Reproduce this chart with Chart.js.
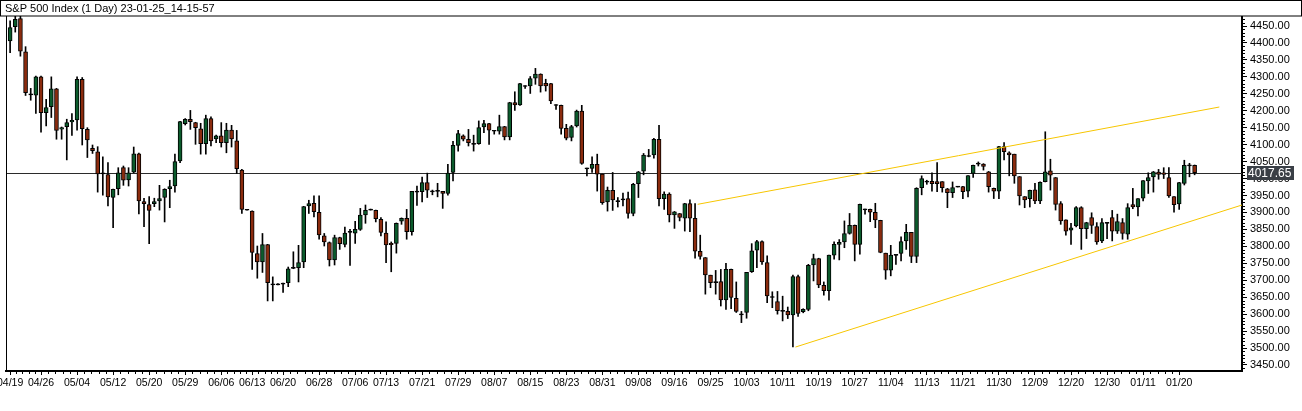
<!DOCTYPE html>
<html>
<head>
<meta charset="utf-8">
<script src="https://cdn.jsdelivr.net/npm/chart.js@4.4.1/dist/chart.umd.min.js"></script>
<style>
html,body{margin:0;padding:0;background:#fff;overflow:hidden;}
#box{width:1302px;height:411px;position:relative;}
canvas{display:block;}
</style>
</head>
<body>
<div id="box"><canvas id="chart" width="1302" height="411"></canvas></div>
<script>
// ---------------- DATA ----------------
const chartTitle = 'S&P 500 Index (1 Day) 23-01-25_14-15-57';

const opens = [
4406,4448,4472,4374,4249,4246,4300,4194,4212,4265,4146,4153,4167,4173,4293,4145,4089,4079,4016,4012,
3944,3970,4032,3996,4019,4073,3932,3923,3926,3934,3944,3970,3978,4052,4162,4175,4165,4147,4103,4177,
4117,4126,4106,4143,4111,4025,3908,3904,3779,3754,3805,3688,3688,3691,3693,3736,3737,3754,3919,3927,
3900,3831,3811,3760,3826,3806,3842,3839,3850,3893,3908,3906,3880,3839,3809,3809,3874,3883,3843,3961,
3961,3988,3962,3963,3962,3956,4018,4098,4126,4116,4103,4103,4152,4162,4141,4140,4153,4123,4224,4217,
4273,4273,4296,4308,4281,4280,4217,4216,4148,4121,4155,4199,4030,4030,4042,4013,3931,3965,3933,3938,
3941,3897,3985,4022,4066,4070,4116,3941,3954,3893,3897,3883,3926,3883,3785,3767,3715,3694,3696,3642,
3732,3647,3600,3605,3725,3789,3814,3752,3650,3637,3610,3608,3598,3711,3607,3614,3745,3764,3685,3669,
3774,3806,3813,3838,3862,3806,3909,3909,3900,3877,3780,3730,3775,3779,3816,3841,3770,3973,3991,3992,
3991,3991,3970,3958,3976,3976,3963,4015,4044,4043,4020,3971,3963,4094,4076,4072,4006,3947,3941,3967,
3934,3991,4023,4003,3926,3878,3848,3860,3914,3852,3885,3858,3816,3869,3885,3845,3870,3836,3923,3916,
3942,3993,4005,4019,4017,4003,3947,3925,3986,4039,4039
];
const highs = [
4465,4479,4479,4389,4266,4302,4302,4234,4300,4266,4152,4175,4192,4300,4298,4150,4099,4094,4064,4047,
3969,4032,4037,4032,4093,4075,3942,3947,3942,3980,3970,3995,4072,4169,4177,4201,4166,4163,4187,4182,
4128,4165,4163,4157,4142,4027,3909,3905,3801,3838,3806,3710,3690,3692,3739,3784,3803,3918,3936,3949,
3949,3838,3813,3833,3827,3857,3850,3874,3912,3922,3910,3907,3885,3872,3813,3869,3884,3909,3962,3978,
4004,4016,3966,3986,3962,4042,4110,4142,4129,4145,4128,4170,4172,4163,4142,4187,4154,4225,4256,4281,
4274,4301,4325,4309,4293,4281,4218,4217,4160,4157,4202,4216,4031,4064,4072,4013,3975,4018,3944,3957,
3960,3986,4021,4074,4086,4119,4157,3961,3958,3903,3897,3927,3937,3926,3833,3767,3715,3729,3732,3750,
3733,3695,3608,3723,3808,3818,3816,3772,3666,3667,3653,3621,3715,3715,3616,3747,3777,3765,3695,3774,
3813,3820,3875,3897,3863,3925,3910,3910,3927,3877,3780,3803,3776,3828,3865,3841,3973,4008,3995,4017,
4047,3991,3971,3990,3977,3977,4009,4040,4049,4044,4021,3972,4095,4106,4079,4072,4006,3947,3966,3986,
3990,4138,4057,4003,3932,3878,3868,3917,3917,3871,3899,3870,3882,3870,3906,3895,3882,3926,3971,3941,
3994,4017,4021,4027,4032,4032,3947,3989,4054,4045,4040
];
const lows = [
4371,4432,4361,4245,4231,4192,4137,4155,4180,4116,4116,4055,4127,4143,4099,4062,4074,3960,3951,3919,
3855,3952,3980,3978,4017,3896,3858,3808,3917,3907,3872,3914,3960,4047,4158,4145,4101,4072,4072,4096,
4106,4093,4076,4093,4015,3897,3907,3732,3706,3723,3639,3639,3686,3664,3681,3734,3695,3737,3897,3887,
3821,3801,3742,3745,3791,3798,3744,3809,3847,3868,3907,3872,3831,3752,3725,3780,3865,3821,3833,3921,
3931,3944,3952,3946,3912,3951,3993,4081,4111,4096,4081,4101,4135,4101,4131,4131,4114,4114,4201,4216,
4266,4251,4278,4255,4258,4221,4204,4131,4114,4111,4152,4042,4008,4018,3963,3924,3904,3906,3916,3919,
3883,3890,3944,4011,4064,4060,3919,3909,3872,3853,3875,3845,3843,3765,3762,3659,3678,3659,3624,3614,
3616,3605,3575,3588,3723,3737,3747,3634,3619,3600,3580,3587,3503,3593,3604,3610,3698,3678,3656,3641,
3762,3760,3796,3836,3757,3777,3895,3873,3855,3781,3703,3713,3747,3757,3791,3752,3752,3952,3983,3963,
3961,3960,3914,3944,3975,3941,3946,4003,4037,4025,3960,3941,3941,4055,4008,3986,3922,3914,3916,3926,
3926,3990,3966,3907,3865,3833,3806,3857,3791,3823,3838,3806,3811,3823,3816,3838,3821,3821,3911,3890,
3934,3956,3960,3998,4000,3944,3901,3909,3981,4005,4011
];
const closes = [
4445,4470,4376,4253,4248,4300,4194,4209,4265,4142,4150,4165,4172,4293,4147,4114,4082,4014,4015,3946,
3968,4017,3995,4017,4073,3934,3926,3906,3932,3941,3968,3976,4050,4168,4175,4168,4150,4103,4177,4111,
4126,4106,4143,4117,4029,3909,3908,3782,3754,3805,3693,3688,3688,3689,3734,3737,3752,3917,3926,3902,
3834,3813,3760,3826,3808,3839,3843,3850,3892,3906,3909,3882,3841,3804,3805,3868,3883,3843,3962,3962,
3988,3966,3962,3964,3956,4016,4098,4133,4116,4106,4102,4150,4162,4143,4141,4153,4123,4224,4217,4280,
4273,4295,4308,4273,4273,4229,4217,4148,4119,4153,4199,4045,4030,4042,4013,3929,3965,3937,3934,3939,
3897,3983,4020,4069,4067,4116,3941,3954,3893,3902,3885,3926,3883,3786,3770,3716,3693,3695,3642,3732,
3649,3608,3599,3723,3787,3814,3754,3654,3651,3610,3609,3598,3711,3602,3614,3744,3764,3686,3669,3774,
3806,3812,3838,3862,3806,3924,3909,3901,3878,3782,3730,3774,3775,3814,3841,3770,3971,4000,3991,3985,
3985,3973,3958,3973,3976,3961,4009,4039,4044,4036,3976,3963,4094,4079,4070,4008,3949,3937,3965,3934,
3989,4020,4010,3924,3875,3845,3855,3914,3852,3870,3862,3813,3870,3869,3845,3873,3838,3914,3916,3941,
3994,4003,4020,4012,4012,3949,3923,3988,4039,4039,4017.65
];

const tickLabels = ['04/19','04/26','05/04','05/12','05/20','05/29','06/06','06/13','06/20','06/28',
'07/06','07/13','07/21','07/29','08/07','08/15','08/23','08/31','09/08','09/16','09/25','10/03',
'10/11','10/19','10/27','11/04','11/13','11/21','11/30','12/09','12/20','12/30','01/11','01/20'];
const yTickValues = [3450,3500,3550,3600,3650,3700,3750,3800,3850,3900,3950,4000,4050,4100,4150,
4200,4250,4300,4350,4400,4450];
const lastPrice = 4017.65;

// trend lines in (bar index, price) units
const upperTrendBars = [133.5, 234.8];
const upperTrendPrices = [3924, 4211];
const lowerTrendBars = [152.5, 239.2];
const lowerTrendPrices = [3503, 3922];

// session calendar (bars: no Saturdays, Sunday sessions until 2022-11-20, two closed days)
const firstSession = [2022, 3, 19];
const lastSession = [2023, 0, 25];
const lastSundaySession = [2022, 10, 20];
const closedDays = ['2022-12-26', '2023-01-02'];

// ---------------- STYLE ----------------
const GREEN = '#0b5b2c';
const RED = '#8b2b0e';
const TREND = '#f7c600';
const AXIS_FONT = '"Liberation Sans", Arial, sans-serif';

function buildCategories() {
  const out = [];
  let t = Date.UTC(...firstSession);
  const end = Date.UTC(...lastSession);
  const lastSun = Date.UTC(...lastSundaySession);
  while (t <= end) {
    const d = new Date(t);
    const wd = d.getUTCDay();
    const iso = d.toISOString().slice(0, 10);
    if (wd !== 6 && !(wd === 0 && t > lastSun) && !closedDays.includes(iso)) {
      out.push(iso.slice(5, 7) + '/' + iso.slice(8, 10));
    }
    t += 86400000;
  }
  return out;
}
const categories = buildCategories();

const idx = opens.map((_, i) => i);
const wickData = idx.map(i => ({ x: i, y: [lows[i], highs[i]] }));
const bodyData = idx.map(i => {
  let lo = Math.min(opens[i], closes[i]), hi = Math.max(opens[i], closes[i]);
  if (hi - lo < 3) { const m = (hi + lo) / 2; lo = m - 1.5; hi = m + 1.5; }
  return { x: i, y: [lo, hi] };
});
const bodyColors = idx.map(i => Math.abs(closes[i] - opens[i]) < 3 ? '#000' : (closes[i] > opens[i] ? GREEN : RED));

const tickIndexes = tickLabels.map(l => categories.indexOf(l)).filter(v => v >= 0);

const framePlugin = {
  id: 'frame',
  beforeDatasetsDraw(chart) {
    const { ctx, chartArea: a } = chart;
    const y = Math.round(chart.scales.y.getPixelForValue(lastPrice)) + 0.5;
    ctx.save();
    ctx.strokeStyle = '#2b2b2b';
    ctx.lineWidth = 1;
    ctx.beginPath(); ctx.moveTo(a.left, y); ctx.lineTo(a.right, y); ctx.stroke();
    ctx.restore();
  },
  afterDraw(chart) {
    const { ctx, chartArea: a } = chart;
    const ys = chart.scales.y, xs = chart.scales.x;
    ctx.save();
    ctx.strokeStyle = '#000';
    ctx.lineWidth = 1;
    ctx.beginPath();
    ctx.moveTo(a.left + 0.5, a.top); ctx.lineTo(a.left + 0.5, a.bottom);
    ctx.stroke();
    // title strip
    ctx.fillStyle = '#fff';
    ctx.fillRect(0, 0, chart.width, a.top);
    ctx.strokeRect(0.5, 0.5, chart.width - 1, a.top - 0.5);
    ctx.fillStyle = '#000';
    ctx.font = '11px "Liberation Sans", Arial, sans-serif';
    ctx.textBaseline = 'middle';
    ctx.textAlign = 'left';
    ctx.fillText(chartTitle, 5, 8.5);
    // minor y ticks every 10
    ctx.beginPath();
    for (let v = 3440; v <= 4470; v += 10) {
      if (v % 50 === 0) continue;
      const py = Math.round(ys.getPixelForValue(v)) + 0.5;
      ctx.moveTo(a.right + 1, py); ctx.lineTo(a.right + 3, py);
    }
    ctx.stroke();
    // minor x ticks
    ctx.beginPath();
    for (let k = 0; k + 1 < tickIndexes.length; k++) {
      const i0 = tickIndexes[k], i1 = tickIndexes[k + 1];
      for (let s = 1; s < 5; s++) {
        const px = Math.round(xs.getPixelForValue(i0 + (i1 - i0) * s / 5)) + 0.5;
        ctx.moveTo(px, a.bottom + 1); ctx.lineTo(px, a.bottom + 3);
      }
    }
    ctx.stroke();
    // last price box
    const py = Math.round(ys.getPixelForValue(lastPrice));
    ctx.fillStyle = '#3a3f46';
    ctx.fillRect(a.right + 5, py - 7, 47, 14);
    ctx.fillStyle = '#fff';
    ctx.font = '12px ' + AXIS_FONT;
    ctx.fillText(lastPrice.toFixed(2), a.right + 6, py + 0.5);
    ctx.restore();
  }
};

new Chart(document.getElementById('chart'), {
  type: 'bar',
  data: {
    datasets: [
      { type: 'line', data: upperTrendBars.map((b, k) => ({ x: b, y: upperTrendPrices[k] })),
        borderColor: TREND, borderWidth: 1, pointRadius: 0, order: 0 },
      { type: 'line', data: lowerTrendBars.map((b, k) => ({ x: b, y: lowerTrendPrices[k] })),
        borderColor: TREND, borderWidth: 1, pointRadius: 0, order: 0 },
      { type: 'bar', data: bodyData, backgroundColor: bodyColors, borderColor: '#000', borderWidth: 1,
        borderSkipped: false, barThickness: 4, grouped: false, order: 1 },
      { type: 'bar', data: wickData, backgroundColor: '#000', borderWidth: 0,
        barThickness: 1, grouped: false, order: 2 }
    ]
  },
  options: {
    responsive: false,
    animation: false,
    devicePixelRatio: 1,
    layout: { padding: { left: 6, top: 16, right: 0, bottom: 0 } },
    plugins: { legend: { display: false }, tooltip: { enabled: false } },
    scales: {
      x: {
        type: 'linear', min: -0.8, max: 239.2, offset: false,
        grid: { display: true, drawOnChartArea: false, drawTicks: true, tickLength: 4, color: '#000', offset: false },
        border: { display: true, color: '#000', width: 2 },
        afterBuildTicks(s) { s.ticks = tickIndexes.map(v => ({ value: v })); },
        afterFit(s) { s.height = 40; s.paddingLeft = 0; s.paddingRight = 0; },
        ticks: {
          autoSkip: false, maxRotation: 0, minRotation: 0, padding: 2, color: '#000',
          font: { family: AXIS_FONT, size: 10.5 },
          callback: v => categories[v] || ''
        }
      },
      y: {
        position: 'right', min: 3432.3, max: 4479.5,
        grid: { display: true, drawOnChartArea: false, drawTicks: true, tickLength: 5, color: '#000' },
        border: { display: true, color: '#000', width: 2 },
        afterBuildTicks(s) { s.ticks = yTickValues.map(v => ({ value: v })); },
        afterFit(s) { s.width = 60; s.paddingTop = 0; s.paddingBottom = 0; },
        ticks: {
          padding: 3, color: '#000', crossAlign: 'near',
          font: { family: AXIS_FONT, size: 11 },
          callback: v => Number(v).toFixed(2)
        }
      }
    }
  },
  plugins: [framePlugin]
});
</script>
</body>
</html>
